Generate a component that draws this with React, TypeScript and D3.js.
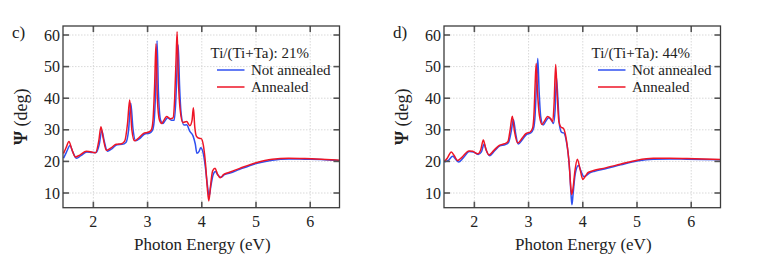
import * as d3 from "d3";

// Ψ spectra: [photon energy (eV), psi (deg)]
const notAnnealed21: [number, number][] = [
  [1.45, 21.0], [1.5, 22.8], [1.57, 25.0], [1.62, 23.0], [1.69, 21.0], [1.77, 21.8],
  [1.88, 23.0], [1.98, 22.8], [2.05, 22.8], [2.11, 25.5], [2.155, 29.8], [2.2, 26.5],
  [2.26, 23.2], [2.34, 24.0], [2.44, 25.3], [2.53, 25.4], [2.6, 26.0], [2.65, 30.0],
  [2.69, 38.5], [2.73, 30.5], [2.78, 26.5], [2.86, 27.3], [2.94, 28.6], [3.04, 29.0],
  [3.09, 29.8], [3.12, 32.5], [3.15, 43.0], [3.175, 58.2], [3.2, 42.0], [3.24, 33.0],
  [3.28, 32.0], [3.32, 32.8], [3.37, 33.8], [3.44, 33.0], [3.49, 33.0], [3.52, 39.0],
  [3.545, 50.0], [3.565, 56.8], [3.59, 44.0], [3.62, 35.0], [3.67, 31.5], [3.72, 31.6],
  [3.78, 29.5], [3.84, 28.0], [3.88, 25.5], [3.91, 22.6], [3.95, 23.2], [3.98, 24.3],
  [4.02, 23.0], [4.06, 19.0], [4.1, 13.0], [4.135, 9.0], [4.17, 12.5], [4.21, 15.8],
  [4.25, 16.8], [4.3, 15.6], [4.35, 15.0], [4.42, 15.8], [4.52, 16.3], [4.7, 17.5],
  [5.0, 19.3], [5.3, 20.4], [5.6, 20.8], [5.9, 20.7], [6.2, 20.6], [6.54, 20.2],
];

const annealed21: [number, number][] = [
  [1.45, 22.5], [1.5, 24.5], [1.55, 26.3], [1.6, 24.0], [1.67, 21.4], [1.75, 22.0],
  [1.87, 23.2], [1.97, 23.0], [2.04, 22.7], [2.1, 26.5], [2.14, 31.0], [2.18, 27.5],
  [2.24, 23.5], [2.32, 24.2], [2.42, 25.4], [2.52, 25.6], [2.58, 26.5], [2.63, 32.0],
  [2.67, 39.4], [2.71, 30.0], [2.76, 26.5], [2.84, 27.5], [2.92, 28.8], [3.02, 29.3],
  [3.07, 30.0], [3.1, 33.0], [3.13, 44.0], [3.155, 57.2], [3.18, 40.0], [3.22, 33.0],
  [3.26, 32.0], [3.3, 33.0], [3.35, 34.2], [3.42, 33.5], [3.47, 33.8], [3.5, 40.0],
  [3.525, 52.0], [3.545, 61.0], [3.57, 45.0], [3.6, 36.5], [3.65, 32.3], [3.72, 32.6],
  [3.78, 31.3], [3.82, 33.0], [3.845, 37.0], [3.87, 31.0], [3.9, 28.0], [3.95, 27.3],
  [3.99, 27.2], [4.03, 25.0], [4.07, 19.0], [4.1, 12.0], [4.13, 7.5], [4.16, 12.0],
  [4.2, 17.0], [4.245, 17.8], [4.29, 16.0], [4.34, 14.8], [4.4, 15.8], [4.5, 16.5],
  [4.7, 17.8], [5.0, 19.6], [5.3, 20.7], [5.6, 21.0], [5.9, 20.9], [6.2, 20.7], [6.54, 20.4],
];

const notAnnealed44: [number, number][] = [
  [1.45, 19.8], [1.52, 20.3], [1.6, 21.6], [1.65, 20.8], [1.71, 19.8], [1.79, 21.0],
  [1.91, 23.1], [1.98, 23.0], [2.07, 22.2], [2.13, 23.0], [2.18, 25.5], [2.22, 23.5],
  [2.28, 21.8], [2.37, 23.3], [2.47, 24.9], [2.57, 25.3], [2.63, 26.0], [2.68, 29.5],
  [2.72, 33.3], [2.76, 29.0], [2.81, 25.5], [2.89, 27.0], [2.96, 28.5], [3.04, 29.0],
  [3.09, 30.3], [3.12, 34.5], [3.145, 44.0], [3.17, 52.6], [3.195, 42.0], [3.225, 34.0],
  [3.27, 31.5], [3.32, 32.8], [3.37, 33.8], [3.43, 32.8], [3.46, 32.0], [3.49, 36.5],
  [3.515, 46.5], [3.54, 40.0], [3.57, 31.5], [3.61, 29.2], [3.65, 29.0], [3.69, 27.0],
  [3.73, 22.5], [3.76, 16.5], [3.785, 9.0], [3.8, 6.3], [3.82, 9.5], [3.86, 16.0],
  [3.92, 18.7], [3.97, 16.8], [4.02, 15.2], [4.07, 15.6], [4.12, 16.3], [4.22, 16.9],
  [4.4, 17.6], [4.7, 18.9], [5.0, 20.1], [5.3, 20.7], [5.6, 20.8], [5.92, 20.7], [6.54, 20.5],
];

const annealed44: [number, number][] = [
  [1.45, 20.0], [1.5, 21.0], [1.575, 23.0], [1.63, 21.8], [1.69, 20.3], [1.77, 21.3],
  [1.9, 23.3], [1.97, 23.2], [2.06, 22.4], [2.12, 23.8], [2.165, 26.8], [2.21, 24.0],
  [2.27, 22.0], [2.36, 23.5], [2.46, 25.1], [2.56, 25.6], [2.62, 26.3], [2.66, 30.0],
  [2.7, 34.3], [2.74, 29.5], [2.8, 25.8], [2.88, 27.3], [2.95, 28.8], [3.03, 29.3],
  [3.075, 30.6], [3.1, 35.0], [3.12, 44.0], [3.14, 51.0], [3.165, 42.0], [3.2, 34.5],
  [3.25, 31.7], [3.3, 33.0], [3.35, 34.2], [3.41, 33.5], [3.445, 32.5], [3.47, 38.0],
  [3.5, 50.7], [3.525, 42.0], [3.56, 32.5], [3.6, 30.8], [3.64, 30.5], [3.68, 28.5],
  [3.72, 24.0], [3.75, 19.0], [3.775, 12.5], [3.795, 9.5], [3.82, 11.5], [3.855, 17.0],
  [3.9, 20.7], [3.95, 17.5], [4.0, 14.3], [4.05, 15.4], [4.1, 16.5], [4.2, 17.1],
  [4.38, 17.8], [4.69, 19.1], [5.0, 20.4], [5.3, 21.0], [5.6, 21.0], [5.92, 20.9], [6.54, 20.6],
];

const xTicks = [2, 3, 4, 5, 6];
const yTicks = [10, 20, 30, 40, 50, 60];
const legendLabels = ["Not annealed", "Annealed"];

const FONT = "'Liberation Serif', 'Times New Roman', serif";
const BLUE = "#3050f0";
const RED = "#ee1526";

type PanelProps = {
  offsetX: number;
  tag: string;
  ratio: string;
  blue: [number, number][];
  red: [number, number][];
};

const Panel = ({ offsetX, tag, ratio, blue, red }: PanelProps) => {
  const left = 63;
  const right = 339.5;
  const top = 26;
  const bottom = 207.7;

  const x = d3.scaleLinear().domain([1.44, 6.54]).range([left, right]);
  const y = d3.scaleLinear().domain([5.35, 62.85]).range([bottom, top]);

  const line = d3
    .line<[number, number]>()
    .x((d) => x(d[0]))
    .y((d) => y(d[1]))
    .curve(d3.curveMonotoneX);

  const tickLen = 6;

  return (
    <g transform={`translate(${offsetX},0)`}>
      <defs>
        <clipPath id={`clip-${tag}`}>
          <rect x={left} y={top} width={right - left} height={bottom - top} />
        </clipPath>
      </defs>

      {/* dotted grid */}
      {xTicks.map((t) => (
        <line key={`gx${t}`} x1={x(t)} x2={x(t)} y1={top} y2={bottom}
          stroke="#cfcfcf" strokeWidth={0.8} strokeDasharray="1.5,1.5" />
      ))}
      {yTicks.map((t) => (
        <line key={`gy${t}`} x1={left} x2={right} y1={y(t)} y2={y(t)}
          stroke="#cfcfcf" strokeWidth={0.8} strokeDasharray="1.5,1.5" />
      ))}

      {/* curves */}
      <g clipPath={`url(#clip-${tag})`}>
        <path d={line(blue) ?? ""} fill="none" stroke={BLUE} strokeWidth={1.5} />
        <path d={line(red) ?? ""} fill="none" stroke={RED} strokeWidth={1.5} />
      </g>

      {/* inward ticks on all four sides */}
      {xTicks.map((t) => (
        <g key={`tx${t}`} stroke="#555" strokeWidth={1.6}>
          <line x1={x(t)} x2={x(t)} y1={bottom} y2={bottom - tickLen} />
          <line x1={x(t)} x2={x(t)} y1={top} y2={top + tickLen} />
        </g>
      ))}
      {yTicks.map((t) => (
        <g key={`ty${t}`} stroke="#555" strokeWidth={1.6}>
          <line x1={left} x2={left + tickLen} y1={y(t)} y2={y(t)} />
          <line x1={right} x2={right - tickLen} y1={y(t)} y2={y(t)} />
        </g>
      ))}

      {/* frame */}
      <rect x={left} y={top} width={right - left} height={bottom - top}
        fill="none" stroke="#3c3c3c" strokeWidth={1.3} />

      {/* tick labels */}
      {xTicks.map((t) => (
        <text key={`lx${t}`} x={x(t)} y={227} textAnchor="middle"
          fontFamily={FONT} fontSize={16} fill="#222">{t}</text>
      ))}
      {yTicks.map((t) => (
        <text key={`ly${t}`} x={left - 3} y={y(t)} dy="0.35em" textAnchor="end"
          fontFamily={FONT} fontSize={16} fill="#222">{t}</text>
      ))}

      {/* axis titles */}
      <text x={(left + right) / 2 + 1} y={250} textAnchor="middle"
        fontFamily={FONT} fontSize={17} fill="#222">Photon Energy (eV)</text>
      <text transform={`translate(27,${(top + bottom) / 2}) rotate(-90)`} textAnchor="middle"
        fontFamily={FONT} fontSize={18} fill="#222">
        <tspan fontWeight="bold">Ψ</tspan> (deg)
      </text>
      <text x={12} y={37.5} fontFamily={FONT} fontSize={17} fill="#222">{tag}</text>

      {/* legend */}
      <text x={left + 147.5} y={57.5} fontFamily={FONT} fontSize={15} fill="#222">
        Ti/(Ti+Ta): {ratio}
      </text>
      {[BLUE, RED].map((c, i) => (
        <g key={c}>
          <line x1={left + 154} x2={left + 181.5} y1={70 + i * 17} y2={70 + i * 17}
            stroke={c} strokeWidth={1.5} />
          <text x={left + 188} y={74.5 + i * 17} fontFamily={FONT} fontSize={15} fill="#222">
            {legendLabels[i]}
          </text>
        </g>
      ))}
    </g>
  );
};

export default function App() {
  return (
    <svg width={764} height={268} style={{ position: "absolute", left: 0, top: 0, background: "#fff" }}>
      <rect width={764} height={268} fill="#fff" />
      <Panel offsetX={0} tag="c)" ratio="21%" blue={notAnnealed21} red={annealed21} />
      <Panel offsetX={381} tag="d)" ratio="44%" blue={notAnnealed44} red={annealed44} />
    </svg>
  );
}
